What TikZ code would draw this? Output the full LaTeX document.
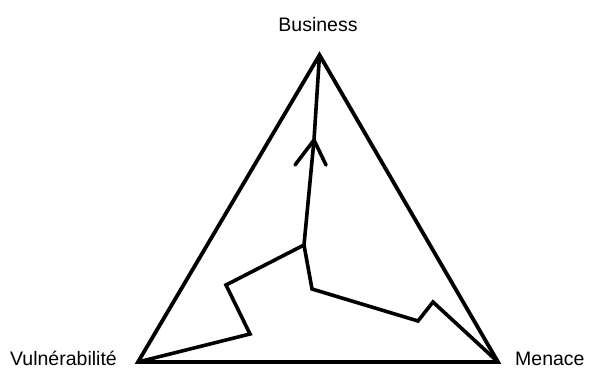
\documentclass[tikz,border=0pt]{standalone}
\usepackage{fontspec}
\setmainfont{Liberation Sans}
\begin{document}
\begin{tikzpicture}[x=1pt,y=-1pt,
  thick line/.style={line width=3.8pt,line join=miter,line cap=butt},
  path line/.style={line width=3.6pt,line join=miter,line cap=round},
  lbl/.style={inner sep=0pt,font=\fontsize{19.5}{23}\selectfont}]
\useasboundingbox (0,0) rectangle (592,369);
% vertices
\coordinate (B) at (319.5,55);
\coordinate (V) at (138,362);
\coordinate (M) at (498,362);
% inner path points
\coordinate (J) at (304,245);
\coordinate (L1) at (226,285);
\coordinate (L2) at (250,334);
\coordinate (R1) at (312,289);
\coordinate (R2) at (418,321);
\coordinate (R3) at (433,302);
\coordinate (T) at (314,140);
\coordinate (A1) at (295,165);
\coordinate (A2) at (326,165);
% labels
\node[lbl,anchor=base] (nb) at (318,32) {Business};
\node[lbl,anchor=base west] (nv) at (10,365) {Vulnérabilité};
\node[lbl,anchor=base west] (nm) at (515,365) {Menace};
% triangle
\draw[thick line] (B) -- (M) -- (V) -- cycle;
% inner paths
\draw[path line] (V) -- (L2) -- (L1) -- (J) -- (R1) -- (R2) -- (R3) -- (M);
\draw[path line] (J) -- (T) -- (B);
\draw[path line] (A1) -- (T) -- (A2);
\end{tikzpicture}
\end{document}
